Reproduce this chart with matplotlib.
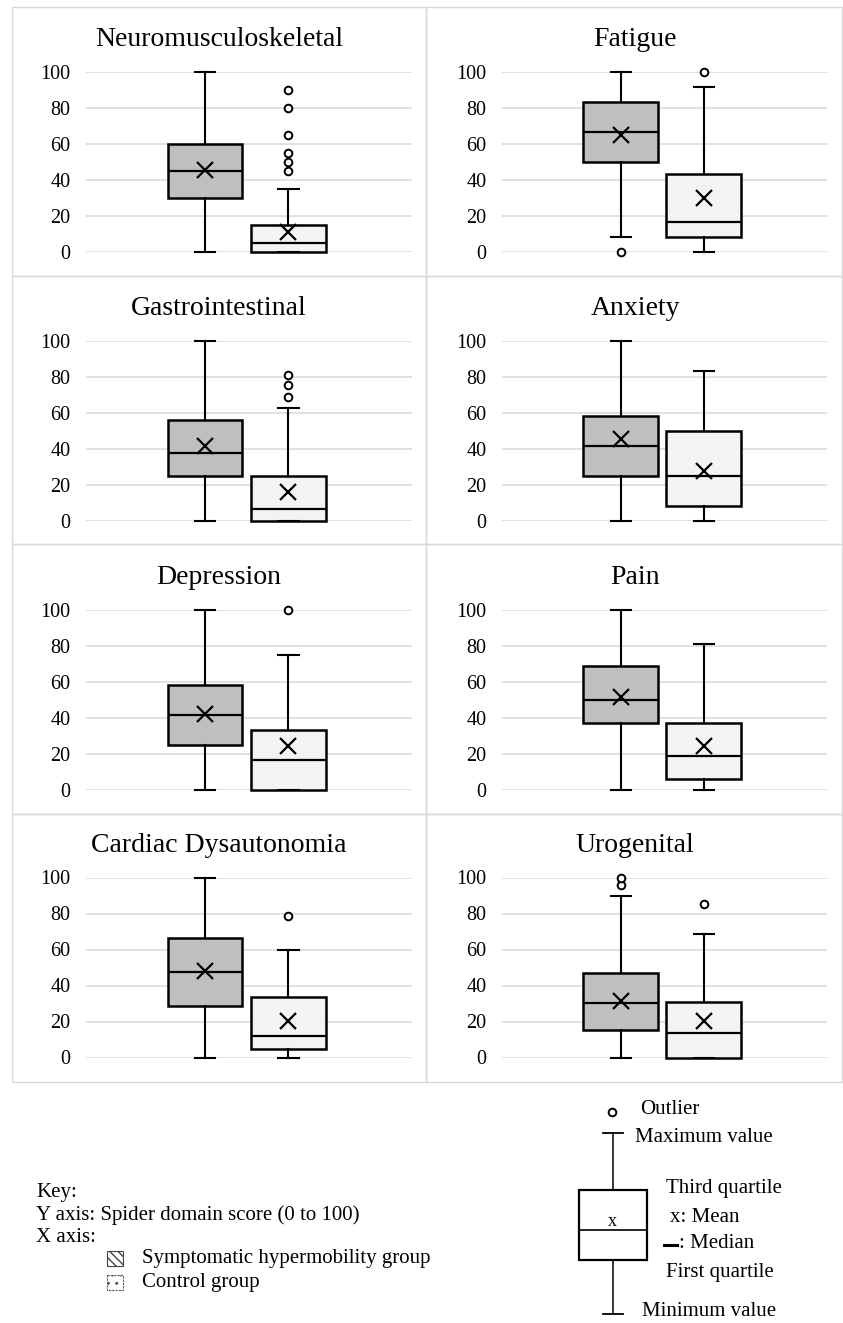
import matplotlib
matplotlib.use("Agg")
import matplotlib.pyplot as plt
from matplotlib.patches import Rectangle

plt.rcParams['font.family'] = ['Liberation Serif', 'DejaVu Serif']

# ---------------- data ----------------
categories = ["Neuromusculoskeletal", "Fatigue", "Gastrointestinal", "Anxiety",
              "Depression", "Pain", "Cardiac Dysautonomia", "Urogenital"]

sym_min = [0, 8.3, 0, 0, 0, 0, 0, 0]
sym_q1 = [30, 50, 25, 25, 25, 37.5, 28.6, 15.2]
sym_med = [45, 66.7, 37.5, 41.7, 41.7, 50, 47.6, 30.4]
sym_q3 = [60, 83.3, 56.25, 58.3, 58.3, 68.75, 66.2, 46.9]
sym_max = [100, 100, 100, 100, 100, 100, 100, 90]
sym_mean = [45.4, 65.2, 41.4, 45.6, 42.4, 51.9, 48.1, 31.5]
sym_out = [[], [0], [], [], [], [], [], [95.8, 100]]

ctl_min = [0, 0, 0, 0, 0, 0, 0, 0]
ctl_q1 = [0, 8.3, 0, 8.3, 0, 6.25, 4.8, 0]
ctl_med = [5, 16.7, 6.25, 25, 16.7, 18.75, 11.9, 13.5]
ctl_q3 = [15, 43.6, 25, 50, 33.3, 37.5, 33.6, 30.7]
ctl_max = [35, 91.7, 62.5, 83.3, 75, 81.25, 60, 68.5]
ctl_mean = [11.1, 29.8, 15.8, 27.6, 24.3, 24.7, 20.2, 20.4]
ctl_out = [[45, 50, 55, 65, 80, 90], [100], [68.8, 75.3, 81.2], [], [100], [], [78.8], [85.2]]

yticks = [0, 20, 40, 60, 80, 100]

# ---------------- layout ----------------
W, H = 843, 1323
fig = plt.figure(figsize=(W / 100, H / 100), dpi=100)
fig.patch.set_facecolor('white')

col_left = [86, 502]
col_right = [412, 827]
row_top = [72, 341, 610, 877.5]
row_bot = [252, 520.5, 790, 1057.5]
title_x = [219, 635]

panel_x = [12, 426, 842]
panel_y = [7, 276, 544, 814, 1082]

overlay = fig.add_axes([0, 0, 1, 1], zorder=0)
overlay.set_xlim(0, W)
overlay.set_ylim(H, 0)
overlay.axis('off')
overlay.patch.set_visible(False)

# panel borders
for r in range(4):
    for c in range(2):
        overlay.add_patch(Rectangle((panel_x[c], panel_y[r]),
                                    panel_x[c + 1] - panel_x[c],
                                    panel_y[r + 1] - panel_y[r],
                                    fill=False, edgecolor='#D9D9D9', lw=1.0))

sym_face = '#BFBFBF'
ctl_face = '#F3F3F3'

for i, name in enumerate(categories):
    r, c = divmod(i, 2)
    l, rr = col_left[c], col_right[c]
    t, b = row_top[r], row_bot[r]
    ax = fig.add_axes([l / W, 1 - b / H, (rr - l) / W, (b - t) / H], zorder=2)
    ax.patch.set_visible(False)
    stats = [
        dict(med=sym_med[i], q1=sym_q1[i], q3=sym_q3[i], whislo=sym_min[i],
             whishi=sym_max[i], fliers=sym_out[i], mean=sym_mean[i]),
        dict(med=ctl_med[i], q1=ctl_q1[i], q3=ctl_q3[i], whislo=ctl_min[i],
             whishi=ctl_max[i], fliers=ctl_out[i], mean=ctl_mean[i]),
    ]
    bp = ax.bxp(stats, positions=[0.365, 0.621], widths=0.23, capwidths=0.062,
                patch_artist=True, showmeans=True, manage_ticks=False,
                boxprops=dict(edgecolor='black', linewidth=1.8),
                whiskerprops=dict(color='black', linewidth=1.5),
                capprops=dict(color='black', linewidth=1.5),
                medianprops=dict(color='black', linewidth=1.6),
                meanprops=dict(marker='x', markersize=11, markeredgecolor='black',
                               markeredgewidth=1.6, linestyle='none'),
                flierprops=dict(marker='o', markersize=5.5, markerfacecolor='white',
                                markeredgecolor='black', markeredgewidth=1.4,
                                linestyle='none'))
    bp['boxes'][0].set_facecolor(sym_face)
    bp['boxes'][1].set_facecolor(ctl_face)
    for key in ('boxes', 'whiskers', 'caps', 'medians', 'fliers', 'means'):
        for art in bp[key]:
            art.set_clip_on(False)
    ax.set_xlim(0, 1)
    ax.set_ylim(0, 100)
    ax.set_yticks(yticks)
    ax.set_yticklabels([str(v) for v in yticks])
    ax.set_xticks([])
    ax.tick_params(axis='y', length=0, pad=11, labelsize=14.5)
    for s in ax.spines.values():
        s.set_visible(False)
    ax.grid(axis='y', color='#D9D9D9', linewidth=1.1)
    ax.set_axisbelow(True)
    overlay.text(title_x[c], t - 26, name, ha='center', va='baseline', fontsize=20)

# ---------------- key (left) ----------------
fs = 15
overlay.text(36, 1193, "Key:", ha='left', va='center', fontsize=fs)
overlay.text(36, 1215, "Y axis: Spider domain score (0 to 100)", ha='left', va='center', fontsize=fs)
overlay.text(36, 1237, "X axis:", ha='left', va='center', fontsize=fs)
overlay.add_patch(Rectangle((107, 1251), 16, 15, facecolor='white', edgecolor='#444444',
                            hatch='\\\\\\\\', lw=0.8))
overlay.text(142, 1259, "Symptomatic hypermobility group", ha='left', va='center', fontsize=fs)
overlay.add_patch(Rectangle((107, 1275), 16, 15, facecolor='white', edgecolor='#555555',
                            hatch='..', lw=0.8, linestyle=(0, (2, 1))))
overlay.text(142, 1282, "Control group", ha='left', va='center', fontsize=fs)

# ---------------- key (box diagram, right) ----------------
overlay.plot([612], [1112], marker='o', markersize=5.5, markerfacecolor='white',
             markeredgecolor='black', markeredgewidth=1.4, linestyle='none')
overlay.text(640, 1110, "Outlier", ha='left', va='center', fontsize=fs)
overlay.plot([613, 613], [1133, 1190], color='black', lw=1.1)
overlay.plot([603, 623], [1133, 1133], color='black', lw=1.3)
overlay.text(635, 1137, "Maximum value", ha='left', va='center', fontsize=fs)
overlay.add_patch(Rectangle((579, 1190), 68, 70, fill=False, edgecolor='black', lw=1.6))
overlay.plot([579, 647], [1230, 1230], color='black', lw=1.2)
overlay.text(612, 1221, "x", ha='center', va='center', fontsize=13)
overlay.text(666, 1189, "Third quartile", ha='left', va='center', fontsize=fs)
overlay.text(670, 1217, "x: Mean", ha='left', va='center', fontsize=fs)
overlay.plot([664, 677], [1245, 1245], color='black', lw=2.2)
overlay.text(679, 1243, ": Median", ha='left', va='center', fontsize=fs)
overlay.text(666, 1272, "First quartile", ha='left', va='center', fontsize=fs)
overlay.plot([613, 613], [1260, 1314], color='black', lw=1.1)
overlay.plot([603, 623], [1314, 1314], color='black', lw=1.3)
overlay.text(642, 1311, "Minimum value", ha='left', va='center', fontsize=fs)

fig.savefig("out.png", dpi=100, facecolor='white')
